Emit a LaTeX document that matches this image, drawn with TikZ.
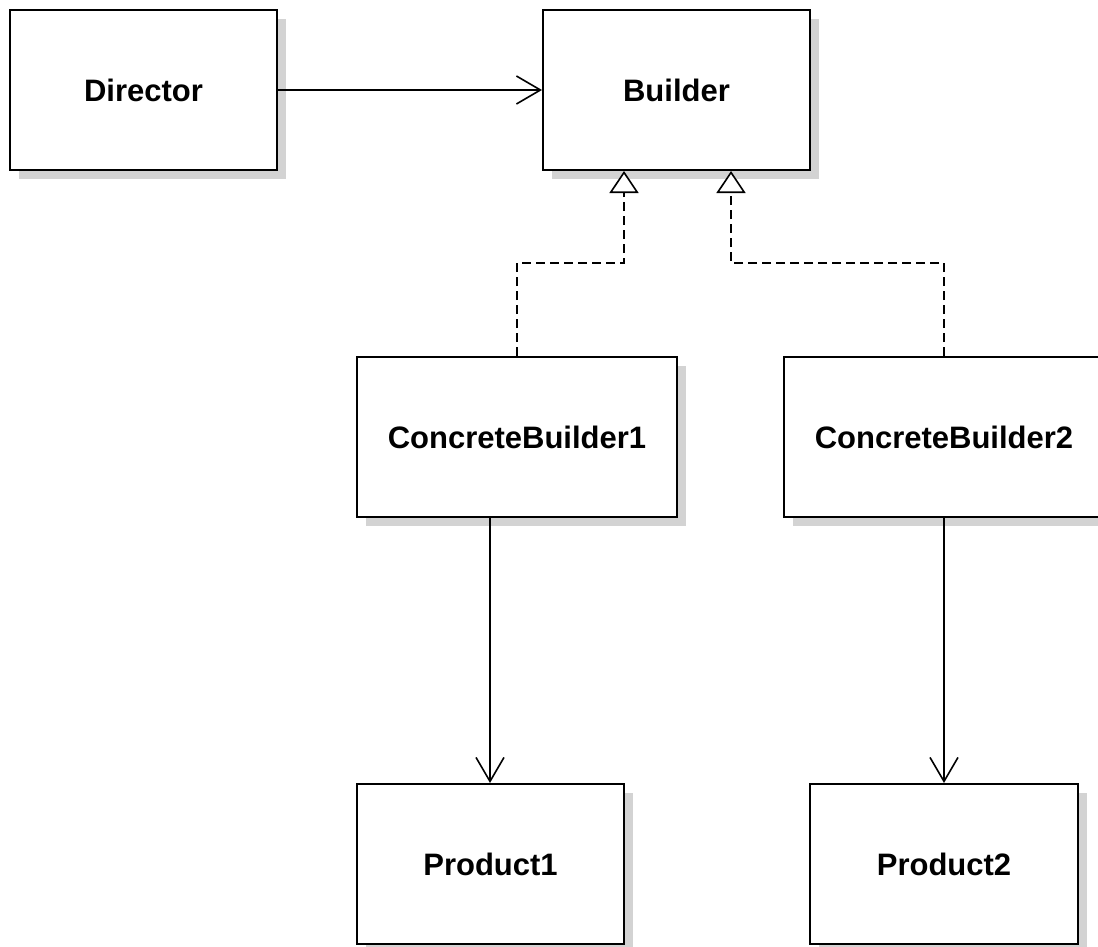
\documentclass[tikz,border=0pt]{standalone}
\usepackage{fontspec}
\setmainfont{Liberation Sans}
\usetikzlibrary{arrows.meta,shadows}
\definecolor{shade}{HTML}{D3D3D3}
\tikzset{
  classbox/.style={draw=black, line width=2pt, fill=white, minimum width=267pt,
    minimum height=160pt, inner sep=0pt,
    font=\fontsize{31}{36}\selectfont\bfseries,
    drop shadow={shadow xshift=9pt, shadow yshift=-9pt, fill=shade, opacity=1}},
  assoc/.style={line width=1.6pt, -{Straight Barb[length=24pt,width=28pt,line width=1.6pt]}},
  realize/.style={line width=1.6pt, dash pattern=on 9pt off 5pt,
    -{Triangle[open,length=22pt,width=29pt,line width=1.6pt,fill=white]}},
}
\begin{document}
\begin{tikzpicture}[x=1pt,y=-1pt]
  \clip (0,0) rectangle (1098,947);
  \fill[white] (0,0) rectangle (1098,947);
  % class boxes
  \node[classbox] (director) at (143.5,90) {Director};
  \node[classbox] (builder) at (676.5,90) {Builder};
  \node[classbox, minimum width=320pt] (cb1) at (517,437) {ConcreteBuilder1};
  \node[classbox, minimum width=320pt] (cb2) at (944,437) {ConcreteBuilder2};
  \node[classbox] (p1) at (490.5,864) {Product1};
  \node[classbox, minimum width=268pt] (p2) at (944,864) {Product2};
  % director uses builder
  \draw[assoc] (director.east) -- (builder.west);
  % concrete builders realize builder
  \draw[realize] (cb1.north) -- (517,263) -- (624,263) -- (624,170 |- builder.south);
  \draw[realize] (cb2.north) -- (944,263) -- (731,263) -- (731,170 |- builder.south);
  % concrete builders create products
  \draw[assoc] (490,0 |- cb1.south) -- (490,0 |- p1.north);
  \draw[assoc] (cb2.south) -- (p2.north);
\end{tikzpicture}
\end{document}
